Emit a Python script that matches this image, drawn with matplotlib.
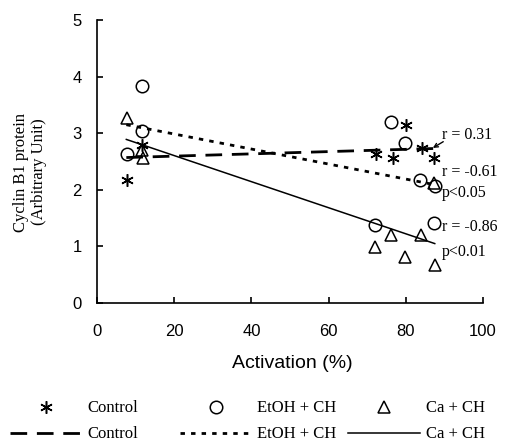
import matplotlib
matplotlib.use("Agg")
import matplotlib.pyplot as plt
from matplotlib.lines import Line2D

# ---- data ----
control_x = [7.7, 11.7, 72.3, 76.6, 80.0, 84.1, 87.3]
control_y = [2.17, 2.80, 2.63, 2.56, 3.14, 2.73, 2.56]
etoh_x = [7.7, 11.6, 11.7, 72.0, 76.1, 79.8, 83.6, 87.4, 87.5]
etoh_y = [2.63, 3.84, 3.04, 1.38, 3.19, 2.82, 2.17, 1.41, 2.07]
ca_x = [7.9, 11.6, 11.8, 72.0, 76.2, 79.8, 83.9, 87.3, 87.6]
ca_y = [3.26, 2.70, 2.56, 0.99, 1.20, 0.82, 1.20, 2.12, 0.67]

trend_x = [7.6, 87.5]
control_fit = [2.57, 2.73]
etoh_fit = [3.15, 2.09]
ca_fit = [2.89, 1.05]

stat_labels = ["r = 0.31", "r = -0.61", "p<0.05", "r = -0.86", "p<0.01"]
stat_y = [2.97, 2.31, 1.94, 1.34, 0.90]
stat_x = 89.4
arrow_target = (87.0, 2.74)

x_ticks = [0, 20, 40, 60, 80, 100]
y_ticks = [0, 1, 2, 3, 4, 5]
series_names = ["Control", "EtOH + CH", "Ca + CH"]

SERIF = ["Liberation Serif", "DejaVu Serif"]
SANS = ["Liberation Sans", "DejaVu Sans"]

fig = plt.figure(figsize=(5.06, 4.43), dpi=100)
W, H = 506, 443
ax = fig.add_axes([97 / W, 1 - 303 / H, (483 - 97) / W, (303 - 20) / H])

ast = (6, 2, 0)
mk = dict(color="black", linestyle="none", markersize=9, markeredgewidth=1.1)
ax.plot(control_x, control_y, marker=ast, **mk)
ax.plot(etoh_x, etoh_y, marker="o", markerfacecolor="none", **mk)
ax.plot(ca_x, ca_y, marker="^", markerfacecolor="none", **mk)

dash_ctrl = (6, 3.5)
dash_etoh = (1.6, 2.2)
ax.plot(trend_x, control_fit, color="black", lw=2.0, dashes=dash_ctrl)
ax.plot(trend_x, etoh_fit, color="black", lw=2.0, dashes=dash_etoh)
ax.plot(trend_x, ca_fit, color="black", lw=1.1, linestyle="-")

for lab, yy in zip(stat_labels, stat_y):
    ax.text(stat_x, yy, lab, fontsize=11.5, family=SERIF, ha="left", va="center")
ax.annotate("", xy=arrow_target, xytext=(stat_x + 0.3, stat_y[0] - 0.12),
            arrowprops=dict(arrowstyle="->", lw=1.0, color="black", shrinkA=0, shrinkB=0,
                            mutation_scale=7))

ax.set_xlim(0, 100)
ax.set_ylim(0, 5)
ax.set_xticks(x_ticks)
ax.set_yticks(y_ticks)
for s in ["top", "right"]:
    ax.spines[s].set_visible(False)
for s in ["left", "bottom"]:
    ax.spines[s].set_linewidth(1.2)
ax.tick_params(axis="both", direction="in", length=4, width=1.2, labelsize=12)
ax.tick_params(axis="y", pad=11)
ax.tick_params(axis="x", pad=15)
for lab in ax.get_xticklabels() + ax.get_yticklabels():
    lab.set_family(SANS)

fig.text(292 / W, 1 - 363 / H, "Activation (%)", fontsize=14, family=SANS,
         ha="center", va="center")
fig.text(30 / W, 1 - 172 / H, "Cyclin B1 protein\n(Arbitrary Unit)", fontsize=12,
         family=SERIF, rotation=90, ha="center", va="center", multialignment="center",
         linespacing=1.15)

# legend: three columns, each with marker row and line row
handles = [
    (Line2D([], [], marker=ast, **mk), Line2D([], [], color="black", lw=2.0, dashes=dash_ctrl)),
    (Line2D([], [], marker="o", markerfacecolor="none", **mk),
     Line2D([], [], color="black", lw=2.0, dashes=dash_etoh)),
    (Line2D([], [], marker="^", markerfacecolor="none", **mk),
     Line2D([], [], color="black", lw=1.1)),
]
col_x = [10, 180, 348]
for (hm, hl), name, cx in zip(handles, series_names, col_x):
    fig.legend([hm, hl], [name, name], loc="center left",
               bbox_to_anchor=(cx / W, 1 - 421.5 / H), frameon=False,
               borderpad=0, borderaxespad=0, handlelength=4.3, handletextpad=0.35,
               labelspacing=0.6, numpoints=1, prop={"family": SERIF, "size": 12})

fig.savefig("out.png", dpi=100)
